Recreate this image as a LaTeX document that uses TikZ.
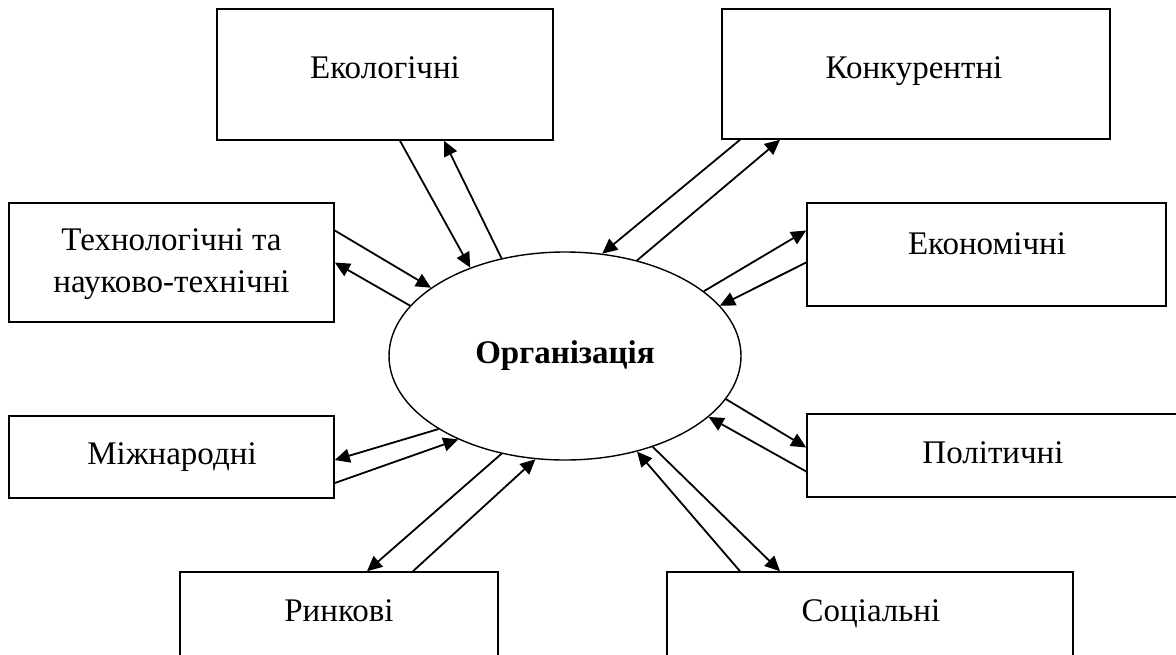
\documentclass[tikz,border=0pt]{standalone}
\usepackage{fontspec}
\setmainfont{Liberation Serif}
\usetikzlibrary{arrows.meta,shapes.geometric}

\begin{document}
\begin{tikzpicture}[x = 0.5pt, y = -0.5pt, box/.style = {draw, line width = 0.8pt, inner sep = 0pt}, arr/.style = {line width = 0.9pt,-{Triangle[length = 7.5pt, width = 7pt]}}]
    \useasboundingbox (0,0) rectangle (1176,654);
    \clip (0,0) rectangle (1176,654);
    \tikzstyle{lbl}=[font = \fontsize{16.5}{21}\selectfont, inner sep = 0pt, anchor = base]

    \node[ellipse, draw, line width = 0.7pt, minimum width = 176pt, minimum height = 104pt, inner sep = 0pt, font = \fontsize{16.5}{21}\selectfont\bfseries] (org) at (565,356) {Організація};

    \node[box, minimum width = 168pt, minimum height = 65.5pt] (eco) at (385,74.5) {};
    \node[box, minimum width = 194pt, minimum height = 65pt] (konk) at (916,74) {};
    \node[box, minimum width = 162.5pt, minimum height = 59.5pt] (tech) at (171.5,262.5) {};
    \node[box, minimum width = 179.5pt, minimum height = 51.5pt] (econ) at (986.5,254.5) {};
    \node[box, minimum width = 162.5pt, minimum height = 41pt] (mizh) at (171.5,457) {};
    \node[box, minimum width = 196.5pt, minimum height = 41.5pt] (polit) at (1003.5,455.5) {};
    \node[box, minimum width = 159pt, minimum height = 54pt] (rynk) at (339,626) {};
    \node[box, minimum width = 203pt, minimum height = 54pt] (sots) at (870,626) {};

    \node[lbl] (ecotxt) at (385,78) {Екологічні};
    \node[lbl] (konktxt) at (914,78) {Конкурентні};
    \node[lbl, anchor = center, align = center] (techtxt) at (171.5,264.5) {Технологічні та\\науково-технічні};
    \node[lbl] (econtxt) at (987,254) {Економічні};
    \node[lbl] (mizhtxt) at (172,464) {Міжнародні};
    \node[lbl] (polittxt) at (993,463) {Політичні};
    \node[lbl] (rynktxt) at (339,621) {Ринкові};
    \node[lbl] (sotstxt) at (871,621) {Соціальні};

    \draw [arr] ([xshift = 7.5pt]eco.south) to (org.137);
    \draw [arr] (org.123) to ([xshift = 29.5pt]eco.south);
    \draw [arr] ([yshift = 16pt]tech.east) to (org.153);
    \draw [arr] (org.162) to (tech.east);
    \draw [arr] ([xshift = -88pt]konk.south) to (org.70);
    \draw [arr] (org.53) to ([xshift = -68pt]konk.south);
    \draw [arr] (org.25) to ([yshift = 12pt]econ.west);
    \draw [arr] ([yshift = -4pt]econ.west) to (org.18);
    \draw [arr] (org.210) to ([yshift = -1.5pt]mizh.east);
    \draw [arr] ([yshift = -13pt]mizh.east) to (org.218);
    \draw [arr] (org.237) to ([xshift = 14pt]rynk.north);
    \draw [arr] ([xshift = 37pt]rynk.north) to (org.254);
    \draw [arr] (org.345) to ([yshift = 4pt]polit.west);
    \draw [arr] ([yshift = -8pt]polit.west) to (org.337);
    \draw [arr] (org.314) to ([xshift = -45pt]sots.north);
    \draw [arr] ([xshift = -65pt]sots.north) to (org.307);
\end{tikzpicture}
\end{document}
